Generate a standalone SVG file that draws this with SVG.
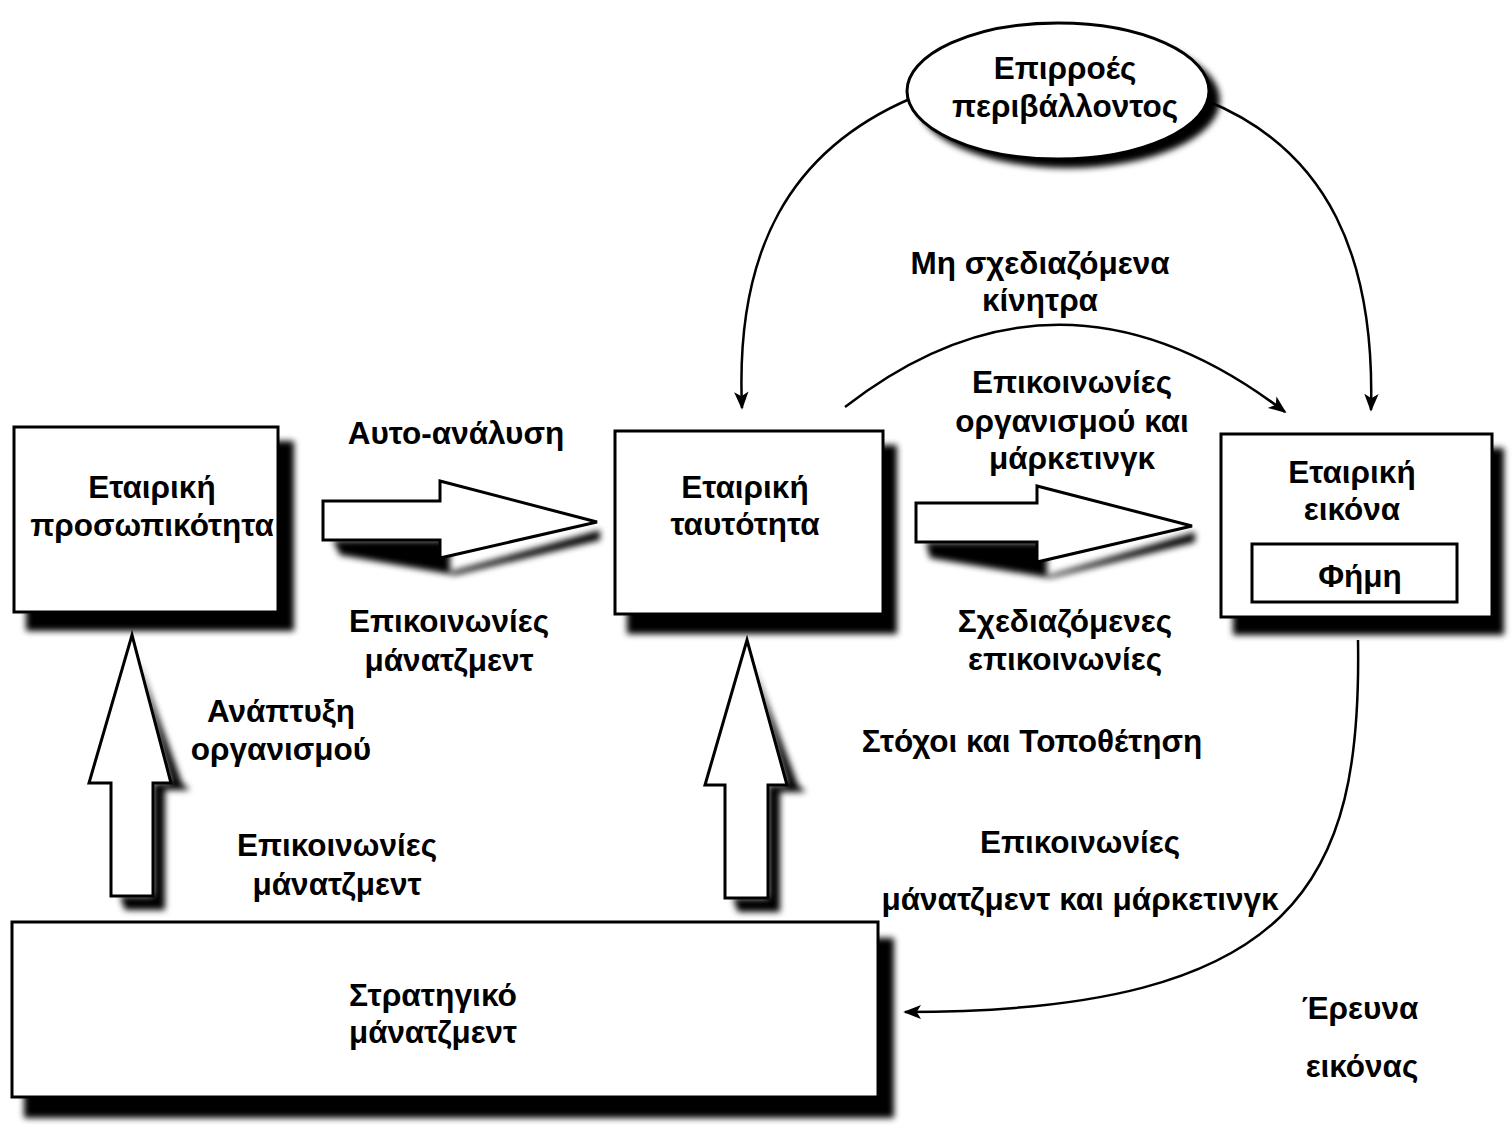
<svg xmlns="http://www.w3.org/2000/svg" width="1512" height="1127" viewBox="0 0 1512 1127">
  <style>
    .box { fill: #fff; stroke: #000; stroke-width: 3; }
    .shadow { fill: #000; filter: url(#soft); }
    .lbl { font-family: "Liberation Sans", Arial, sans-serif; font-weight: bold; font-size: 31.5px; fill: #000; text-anchor: middle; }
    .conn { fill: none; stroke: #000; stroke-width: 2.5; }
    .block { fill: #fff; stroke: #000; stroke-width: 3; stroke-linejoin: miter; }
  </style>
  <defs>
    <filter id="soft" x="-10%" y="-10%" width="120%" height="130%">
      <feGaussianBlur stdDeviation="3"/>
    </filter>
    <marker id="headL" viewBox="0 0 20 20" refX="18" refY="10" markerWidth="18" markerHeight="18" markerUnits="userSpaceOnUse" orient="auto">
      <path d="M0,2 L20,10 L0,18 L5,10 Z" fill="#000"/>
    </marker>
  </defs>
  <rect width="1512" height="1127" fill="#fff"/>

  <!-- curved connectors -->
  <g id="connectors">
    <path class="conn" d="M912 98 C790 150 735 250 742 408" marker-end="url(#headL)"/>
    <path class="conn" d="M1205 100 C1330 150 1375 260 1371 410" marker-end="url(#headL)"/>
    <path class="conn" d="M845 407 Q1060 240 1285 412" marker-end="url(#headL)"/>
    <path class="conn" d="M1358 640 C1362 880 1300 1012 905 1012" marker-end="url(#headL)"/>
  </g>

  <!-- hollow block arrows -->
  <g id="block-arrows">
    <g id="arrow-self-analysis">
      <path class="shadow" d="M333 540 L450 540 L450 572 L600 530 L600 540 L455 575 L340 555 Z"/>
      <polygon class="block" points="323,501 440,501 440,481 597,522 440,558 440,540 323,540"/>
    </g>
    <g id="arrow-corporate-comms">
      <path class="shadow" d="M926 542 L1047 542 L1047 576 L1195 532 L1195 542 L1050 578 L930 558 Z"/>
      <polygon class="block" points="916,503 1037,503 1037,486 1192,526 1037,562 1037,542 916,542"/>
    </g>
    <g id="arrow-up-left">
      <path class="shadow" d="M138 660 L182 783 L190 790 L165 790 L165 910 L125 910 L120 896 L153 896 L153 783 L171 783 Z"/>
      <polygon class="block" points="132,635 171,783 153,783 153,896 111,896 111,783 89,783"/>
    </g>
    <g id="arrow-up-right">
      <path class="shadow" d="M753 665 L798 785 L806 792 L780 792 L780 912 L738 912 L733 898 L768 898 L768 785 L787 785 Z"/>
      <polygon class="block" points="747,640 787,785 768,785 768,898 725,898 725,785 705,785"/>
    </g>
  </g>

  <!-- environment ellipse -->
  <g id="node-environment">
    <ellipse class="shadow" cx="1068" cy="100" rx="152" ry="68"/>
    <ellipse class="box" cx="1058" cy="91" rx="151" ry="68"/>
    <text class="lbl" x="1065" y="79">Επιρροές</text>
    <text class="lbl" x="1065" y="117">περιβάλλοντος</text>
  </g>

  <g id="node-personality">
    <rect class="shadow" x="26" y="441" width="268" height="190"/>
    <rect class="box" x="14" y="427" width="264" height="185"/>
    <text class="lbl" x="152" y="498">Εταιρική</text>
    <text class="lbl" x="152" y="536">προσωπικότητα</text>
  </g>

  <g id="node-identity">
    <rect class="shadow" x="627" y="445" width="270" height="189"/>
    <rect class="box" x="615" y="431" width="268" height="183"/>
    <text class="lbl" x="745" y="498">Εταιρική</text>
    <text class="lbl" x="745" y="535">ταυτότητα</text>
  </g>

  <g id="node-image">
    <rect class="shadow" x="1233" y="448" width="271" height="187"/>
    <rect class="box" x="1221" y="434" width="271" height="183"/>
    <text class="lbl" x="1352" y="483">Εταιρική</text>
    <text class="lbl" x="1352" y="520">εικόνα</text>
    <g id="node-reputation">
      <rect class="box" x="1252" y="544" width="205" height="58"/>
      <text class="lbl" x="1360" y="587">Φήμη</text>
    </g>
  </g>

  <g id="node-strategy">
    <rect class="shadow" x="24" y="938" width="870" height="180"/>
    <rect class="box" x="12" y="922" width="866" height="175"/>
    <text class="lbl" x="433" y="1006" textLength="168" lengthAdjust="spacingAndGlyphs">Στρατηγικό</text>
    <text class="lbl" x="433" y="1043" textLength="168" lengthAdjust="spacingAndGlyphs">μάνατζμεντ</text>
  </g>

  <!-- connector labels -->
  <g id="labels">
    <text class="lbl" x="456" y="444">Αυτο-ανάλυση</text>
    <text class="lbl" x="449" y="632">Επικοινωνίες</text>
    <text class="lbl" x="449" y="671">μάνατζμεντ</text>
    <text class="lbl" x="281" y="722">Ανάπτυξη</text>
    <text class="lbl" x="281" y="760">οργανισμού</text>
    <text class="lbl" x="337" y="856">Επικοινωνίες</text>
    <text class="lbl" x="337" y="895">μάνατζμεντ</text>
    <text class="lbl" x="1040" y="274">Μη σχεδιαζόμενα</text>
    <text class="lbl" x="1040" y="311">κίνητρα</text>
    <text class="lbl" x="1072" y="393">Επικοινωνίες</text>
    <text class="lbl" x="1072" y="432">οργανισμού και</text>
    <text class="lbl" x="1072" y="469">μάρκετινγκ</text>
    <text class="lbl" x="1065" y="632">Σχεδιαζόμενες</text>
    <text class="lbl" x="1065" y="670">επικοινωνίες</text>
    <text class="lbl" x="1032" y="752">Στόχοι και Τοποθέτηση</text>
    <text class="lbl" x="1080" y="853">Επικοινωνίες</text>
    <text class="lbl" x="1080" y="910">μάνατζμεντ και μάρκετινγκ</text>
    <text class="lbl" x="1360" y="1019">Έρευνα</text>
    <text class="lbl" x="1362" y="1077">εικόνας</text>
  </g>
</svg>
